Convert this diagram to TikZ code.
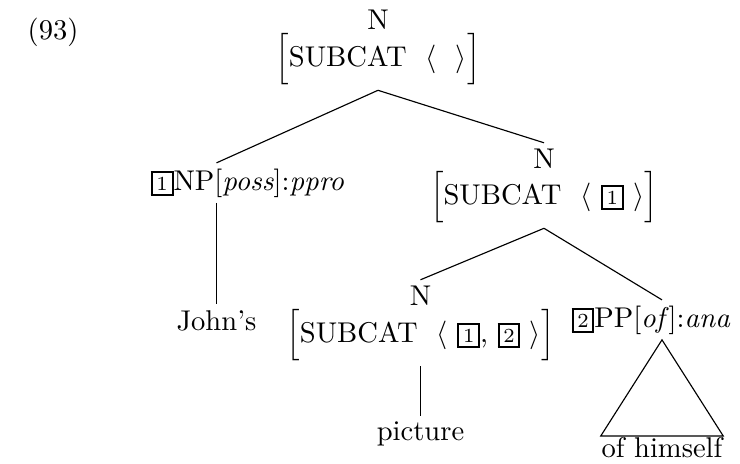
\documentclass[tikz,border=0pt]{standalone}
\usepackage{amsmath}
% boxed tag numbers
\newcommand{\tagbox}[1]{{\setlength{\fboxsep}{1.3pt}\setlength{\fboxrule}{0.7pt}\fbox{\scriptsize #1}}}
% one-feature attribute-value matrix
\newcommand{\subcatavm}[1]{$\Big[$SUBCAT\ \ $\langle$#1$\rangle\Big]$}
\begin{document}
\begin{tikzpicture}[x=0.35pt,y=-0.35pt,
  lbl/.style={inner sep=0pt,outer sep=2pt,anchor=base},
  branch/.style={line width=0.4pt}]
\useasboundingbox (0,0) rectangle (740,463);
\node[lbl,anchor=base west] (ex) at (22,39) {(93)};
% root
\node[lbl] (c1) at (378,29) {N};
\node[lbl] (a1) at (378,66) {\subcatavm{\ \ }};
% specifier
\node[lbl,anchor=base west] (np) at (145,190) {\tagbox{1}NP[\textit{poss}]:\textit{ppro}};
\node[lbl] (john) at (216.5,330) {John's};
% head N'
\node[lbl] (c2) at (544,168) {N};
\node[lbl] (a2) at (544,204) {\subcatavm{\ \tagbox{1}\ }};
% lower N
\node[lbl] (c3) at (420.5,305) {N};
\node[lbl] (a3) at (420.5,342) {\subcatavm{\ \tagbox{1}, \tagbox{2}\ }};
\node[lbl] (pic) at (420.5,440) {picture};
% complement
\node[lbl,anchor=base east] (pp) at (736,327) {\tagbox{2}PP[\textit{of}]:\textit{ana}};
\node[lbl,outer sep=0.3pt] (oh) at (662,457) {of himself};
% branches
\draw[branch] (a1.south) -- (np.north -| john.north);
\draw[branch] (a1.south) -- (c2.north);
\draw[branch] (np.south -| john.north) -- (john.north);
\draw[branch] (a2.south) -- (c3.north);
\draw[branch] (a2.south) -- (pp.north -| oh.north);
\draw[branch] (a3.south) -- (pic.north);
\draw[branch] (pp.south -| oh.north) -- (oh.north east) -- (oh.north west) -- cycle;
\end{tikzpicture}
\end{document}
